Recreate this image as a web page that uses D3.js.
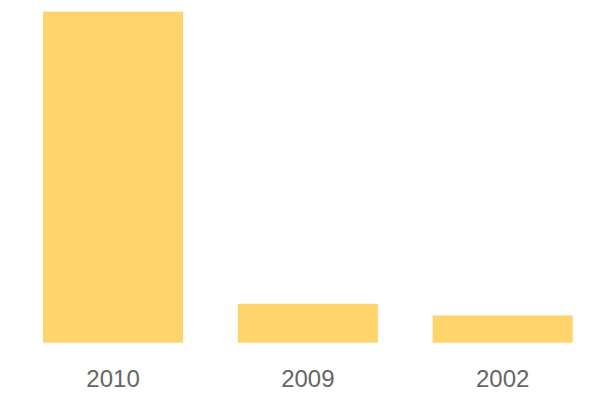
<!DOCTYPE html>
<html><head><meta charset="utf-8">
<script src="https://cdn.jsdelivr.net/npm/d3@7"></script>
<style>html,body{margin:0;padding:0;background:#fff;}</style>
</head><body>
<svg id="chart" width="600" height="400"></svg>
<script>
const categories = ["2010", "2009", "2002"];
const values = [85, 10, 7];

const svg = d3.select("#chart");
const x = d3.scaleBand().domain(categories).range([43, 572.7]).paddingInner(0.281).paddingOuter(0);
const y = d3.scaleLinear().domain([0, 85]).range([342.7, 11.7]);

svg.selectAll("rect.bar").data(categories).join("rect")
  .attr("class", "bar")
  .attr("x", d => x(d))
  .attr("width", x.bandwidth())
  .attr("y", (d, i) => y(values[i]))
  .attr("height", (d, i) => y(0) - y(values[i]))
  .attr("fill", "#ffd56b");

const axis = d3.axisBottom(x).tickSize(0).tickPadding(0);
const g = svg.append("g").attr("transform", "translate(0,370)").call(axis);
g.select(".domain").remove();
g.selectAll("text")
  .attr("dy", "0.71em")
  .attr("font-family", "Liberation Sans, Arial, sans-serif")
  .attr("font-size", 24)
  .attr("fill", "#666");
</script>
</body></html>
